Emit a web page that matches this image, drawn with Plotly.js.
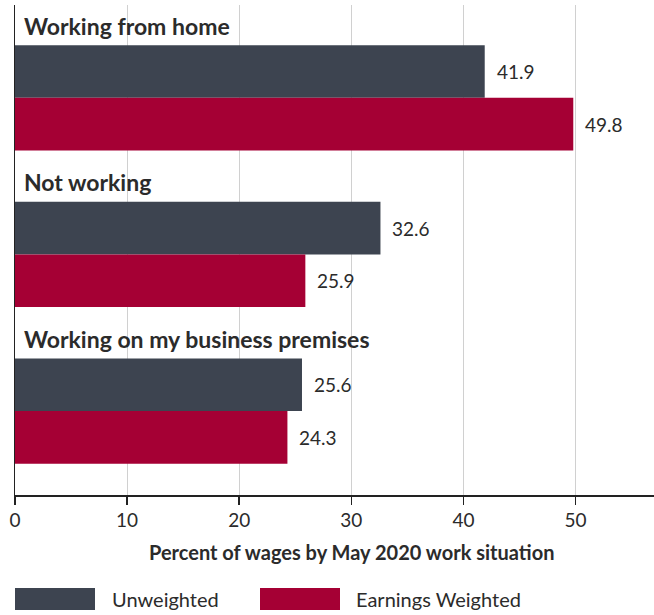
<!DOCTYPE html>
<html>
<head>
<meta charset="utf-8">
<script src="https://cdn.plot.ly/plotly-3.0.1.min.js"></script>
<style>html,body{margin:0;padding:0;background:#fff;}#chart{width:654px;height:615px;}</style>
</head>
<body>
<div id="chart"></div>
<script>
const categories = ["Working from home", "Not working", "Working on my business premises"];
const seriesNames = ["Unweighted", "Earnings Weighted"];
const unweighted = [41.9, 32.6, 25.6];
const earningsWeighted = [49.8, 25.9, 24.3];
const tickValues = [0, 10, 20, 30, 40, 50];
const xTitle = "Percent of wages by May 2020 work situation";

const colors = ["#3d4450", "#a50034"];
const FONT = "Lato, 'Source Sans Pro', sans-serif";
const TXT = "#2b2b2b";
const pos = categories.map((c, i) => i);
const bargap = 0.328;
const half = (1 - bargap) / 4;

const traces = [unweighted, earningsWeighted].map((vals, k) => ({
  type: "bar", orientation: "h", name: seriesNames[k],
  x: vals, y: pos, marker: {color: colors[k], line: {width: 0}},
  hoverinfo: "skip", showlegend: false
}));

const annotations = [];
categories.forEach((c, i) => {
  annotations.push({x: 0, y: i, xref: "x", yref: "y", text: "<b>" + c + "</b>",
    showarrow: false, xanchor: "left", yanchor: "middle", xshift: 7, yshift: 72,
    font: {family: FONT, size: 23, color: TXT}});
});
[unweighted, earningsWeighted].forEach((vals, k) => {
  vals.forEach((v, i) => {
    annotations.push({x: v, y: i + (k === 0 ? -half : half), xref: "x", yref: "y",
      text: v.toFixed(1), showarrow: false, xanchor: "left", yanchor: "middle", xshift: 10,
      font: {family: FONT, size: 19, color: TXT}});
  });
});
annotations.push({x: (351 - 15) / 639, y: -0.117, xref: "paper", yref: "paper", text: "<b>" + xTitle + "</b>",
  showarrow: false, xanchor: "center", yanchor: "middle", font: {family: FONT, size: 20, color: TXT}});

const shapes = [];
const legX = [[0, 80 / 639], [245 / 639, 325 / 639]];
const legTextX = [95 / 639, 339 / 639];
seriesNames.forEach((n, k) => {
  shapes.push({type: "rect", xref: "paper", yref: "paper", x0: legX[k][0], x1: legX[k][1],
    y0: -0.2347, y1: -0.1898, fillcolor: colors[k], line: {width: 0}});
  annotations.push({x: legTextX[k], y: -0.2122, xref: "paper", yref: "paper", text: n,
    showarrow: false, xanchor: "left", yanchor: "middle", font: {family: FONT, size: 20, color: TXT}});
});

const layout = {
  width: 654, height: 615,
  margin: {l: 15, r: 0, t: 5, b: 120, pad: 0},
  paper_bgcolor: "#fff", plot_bgcolor: "#fff",
  barmode: "group", bargap: bargap, bargroupgap: 0,
  showlegend: false,
  font: {family: FONT, color: TXT},
  xaxis: {range: [0, 57], tickvals: tickValues, ticktext: tickValues.map(String),
    showgrid: true, gridcolor: "#d0d0d0", gridwidth: 1, zeroline: false,
    showline: true, linecolor: "#222", linewidth: 1.5,
    ticks: "outside", ticklen: 8, tickcolor: "#222", tickwidth: 1.5,
    tickfont: {family: FONT, size: 19, color: TXT}, fixedrange: true},
  yaxis: {range: [2.536, -0.593], showticklabels: false, showgrid: false, zeroline: false,
    showline: true, linecolor: "#222", linewidth: 1.5, ticks: "", fixedrange: true},
  annotations: annotations, shapes: shapes
};

Plotly.newPlot("chart", traces, layout, {displayModeBar: false, staticPlot: true});
</script>
</body>
</html>
